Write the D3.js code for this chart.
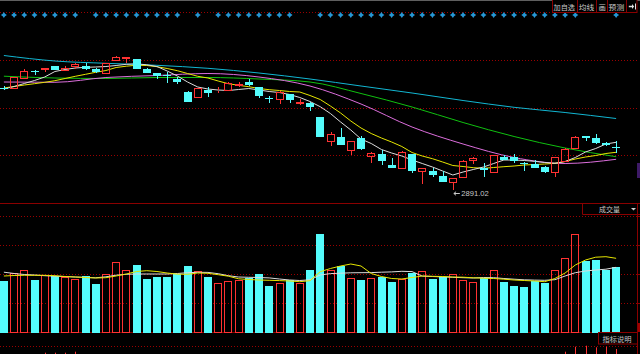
<!DOCTYPE html>
<html>
<head>
<meta charset="utf-8">
<script src="https://cdn.jsdelivr.net/npm/d3@7"></script>
<style>
html, body { margin: 0; padding: 0; background: #000; overflow: hidden; }
svg { display: block; }
</style>
</head>
<body>
<svg id="chart" width="640" height="354"></svg>
<script>
// daily candles
const opens = [3095.8, 3095, 3115.6, 3128.4, 3133.8, 3139, 3131, 3139, 3140, 3134,
    3124.4, 3151, 3154.6, 3152.4, 3133, 3124, 3122, 3113, 3087.6, 3077.6,
    3090, 3090.4, 3090.4, 3101, 3107.6, 3097, 3075.4, 3073, 3082.4, 3066,
    3065, 3037.6, 2989, 2997.6, 2971, 2994.4, 2959, 2963, 2941, 2935.6,
    2963, 2929, 2929.6, 2919, 2906.4, 2917.6, 2951, 2935.6, 2926.4, 2957.6,
    2956.4, 2945.6, 2942.4, 2937.6, 2926.4, 2949, 2974.4, 2999, 2995.6, 2984.4,
    2977];
const highs = [3100, 3118, 3133, 3131, 3135.6, 3140, 3139, 3146, 3146, 3135,
    3146, 3159, 3157, 3153, 3135, 3125, 3127, 3117, 3089.6, 3095,
    3097, 3096.4, 3107.6, 3108, 3113.6, 3098, 3080, 3088, 3083, 3074,
    3067.6, 3038, 3006.4, 3014.4, 2989, 2999, 2967, 2971, 2954.4, 2969,
    2964, 2935, 2934.4, 2929, 2915, 2951, 2956.4, 2944.4, 2962, 2961,
    2962.4, 2946.4, 2951, 2938.4, 2957, 2975, 2999.6, 2999.6, 3002.4, 2987.6,
    2989];
const lows = [3090, 3094, 3115, 3121, 3126.4, 3130, 3130.4, 3133, 3132, 3125.4,
    3124, 3150.4, 3144.4, 3132.4, 3125, 3114, 3106, 3103, 3067, 3074.4,
    3077, 3085.6, 3090, 3097, 3100, 3074.4, 3064.4, 3063, 3066, 3061,
    3049.6, 2997, 2979.6, 2980.4, 2961, 2971.8, 2944.4, 2941, 2935, 2935,
    2925, 2902.4, 2917.6, 2907, 2891.02, 2917, 2943, 2917.6, 2926, 2950.4,
    2944.4, 2929, 2935, 2924.4, 2917.6, 2948.4, 2974, 2989.6, 2983.8, 2980,
    2964.4];
const closes = [3094.4, 3117, 3129, 3127.4, 3134.6, 3131, 3135, 3144, 3133, 3126.4,
    3144.4, 3157, 3156.4, 3133, 3125.6, 3119.6, 3121.2, 3107.6, 3067.6, 3094.4,
    3085.6, 3091.6, 3104.4, 3103.6, 3100.4, 3080, 3073, 3087, 3071, 3067.6,
    3057.6, 2997.6, 3002.4, 2981, 2988.4, 2972.4, 2965.6, 2949, 2935.6, 2966.4,
    2929, 2934.4, 2920.4, 2907.6, 2914.4, 2949, 2955.6, 2931, 2961, 2951,
    2949, 2942.4, 2935.6, 2927.6, 2956.4, 2972.4, 2996.4, 2995.6, 2984.4, 2981,
    2976.4];

// price moving averages
const ma5 = [3093, 3098, 3104, 3110, 3117, 3128, 3132, 3135, 3136.4, 3137,
    3138, 3140, 3142.4, 3143.4, 3141.4, 3138, 3129, 3119, 3107, 3097,
    3093, 3091, 3090, 3092, 3094, 3091, 3088, 3086, 3082, 3076,
    3068, 3057.6, 3044, 3027, 3011, 2993, 2984, 2972, 2965, 2959,
    2951, 2944, 2937, 2929, 2921, 2927, 2932, 2937, 2944, 2951,
    2951, 2950, 2948.4, 2946, 2944.4, 2948, 2956, 2967, 2974, 2983,
    2986.4];
const ma10 = [3095, 3098, 3101, 3103.6, 3106.4, 3109.6, 3114, 3118.4, 3122.4, 3126.4,
    3130, 3136, 3138.6, 3140.6, 3140, 3137.6, 3134, 3129.6, 3124, 3118.4,
    3115, 3109, 3103.6, 3100.4, 3097.6, 3094, 3091.6, 3090, 3088, 3087,
    3080, 3072, 3059, 3045, 3029, 3015, 3004, 2995, 2987, 2978,
    2966, 2959, 2953.6, 2947, 2940, 2938, 2935.6, 2934.4, 2936, 2937.6,
    2939, 2941, 2942, 2943, 2944.4, 2948, 2953, 2957, 2960, 2964,
    2966.4];
// slower averages, read every fifth day
const slowIdx = [0, 5, 10, 15, 20, 25, 30, 35, 40, 45, 50, 55, 60];
const ma20 = [3107, 3106.4, 3116, 3120, 3124, 3117, 3099, 3063, 3017, 2983, 2956, 2944, 2952.4];
const ma30 = [3118.6, 3115, 3114, 3116, 3116, 3113, 3107, 3084, 3057, 3026, 2998, 2975, 2957.6];
const ma60 = [3160, 3149, 3144.4, 3140.4, 3134.4, 3125, 3113, 3099, 3085, 3070, 3056.4, 3046, 3034];

// volume and its averages
const volumes = [2040, 2360, 2480, 2080, 2268, 2228, 2212, 2120, 2228, 1932,
    2320, 2800, 2480, 2680, 2120, 2212, 2212, 2320, 2640, 2428,
    2212, 1960, 2040, 2080, 2172, 2308, 1840, 1948, 2068, 1972,
    2480, 3920, 2480, 2652, 2160, 2092, 2160, 2212, 2012, 2120,
    2348, 2440, 2120, 2212, 2320, 2080, 2000, 2148, 2480, 2012,
    1852, 1800, 2040, 1960, 2480, 2948, 3920, 2852, 2892, 2492,
    2600];
const volMa5 = [2240, 2260, 2268, 2268, 2268, 2252, 2220, 2200, 2180, 2160,
    2172, 2240, 2320, 2420, 2452, 2420, 2360, 2312, 2308, 2360,
    2348, 2292, 2232, 2128, 2100, 2080, 2068, 2056, 2040, 2012,
    2052, 2412, 2540, 2640, 2720, 2640, 2340, 2220, 2140, 2120,
    2180, 2240, 2228, 2220, 2200, 2192, 2168, 2152, 2140, 2112,
    2080, 2060, 2040, 2012, 2140, 2360, 2680, 2880, 2992, 3012,
    2948];
const volMa10 = [2392, 2340, 2300, 2280, 2252, 2232, 2216, 2200, 2184, 2168,
    2208, 2272, 2308, 2320, 2320, 2320, 2320, 2340, 2372, 2388,
    2384, 2332, 2252, 2200, 2188, 2180, 2164, 2120, 2080, 2060,
    2088, 2280, 2336, 2352, 2368, 2372, 2376, 2392, 2404, 2428,
    2416, 2236, 2220, 2204, 2188, 2172, 2160, 2180, 2172, 2140,
    2112, 2088, 2076, 2068, 2092, 2240, 2372, 2440, 2480, 2512,
    2588];

// days that carry an info marker on the top row
const markerIdx = [0, 1, 2, 3, 4, 5, 6, 7, 9, 10, 11, 12, 13, 14, 15, 16, 17, 19,
    21, 22, 23, 24, 25, 26, 27, 28, 31, 32, 33, 34, 35, 36, 37, 38, 39, 40, 41,
    42, 43, 44, 45, 46, 47, 48, 49, 50, 51, 52, 53, 54, 55, 56, 60];

// tops of the indicator bars peeking in at the bottom
const macdIdx = [4, 5, 6, 7, 55, 56, 57, 58, 59, 60];
const macdVal = [9.3, 9.3, 9.3, 10.3, 10.3, 15.3, 16.3, 14.7, 15.3, 13];

const buttons = ["加自选", "均线", "画", "预测"];

const UP = '#ff3232', DOWN = '#54fcfc', DARK = '#8a0000', LABEL = '#c8c8c8';
const CJK = '"Noto Sans CJK SC", "Noto Sans", sans-serif';

const svg = d3.select('#chart');

const x = d3.scaleBand()
    .domain(d3.range(opens.length))
    .range([0, 620])
    .paddingInner(0.24)
    .paddingOuter(0);
const cx = i => x(i) + x.bandwidth() / 2;
const left = i => Math.round(x(i));

const y = d3.scaleLinear().domain([2865, 3271]).range([203, 0]);
const yVol = d3.scaleLinear().domain([0, 5160]).range([332, 203]);
const yMacd = d3.scaleLinear().domain([0, 20]).range([362, 342]);

function drawFrame() {
    svg.append('rect').attr('width', 640).attr('height', 354).attr('fill', '#000');
    svg.append('rect').attr('width', 640).attr('height', 1).attr('fill', '#5f5f5f');

    let grid = svg.append('g')
        .attr('stroke', '#9a0000')
        .attr('stroke-dasharray', '1 2');
    // price panel 12..203, volume panel 216..332
    let rows = d3.range(4).map(k => 12 + k * (203 - 12) / 4)
        .concat(d3.range(4).map(k => 216 + k * (332 - 216) / 4), [346]);
    rows.forEach(r => {
        grid.append('line')
            .attr('x1', 0).attr('x2', 637)
            .attr('y1', Math.round(r) + 0.5).attr('y2', Math.round(r) + 0.5);
    });

    svg.append('line').attr('x1', 0).attr('x2', 640).attr('y1', 203.5).attr('y2', 203.5)
        .attr('stroke', DARK);
    svg.append('line').attr('x1', 0).attr('x2', 637).attr('y1', 332.5).attr('y2', 332.5)
        .attr('stroke', DARK);

    // right edge axis of the lower panels
    svg.append('line').attr('x1', 637.5).attr('x2', 637.5).attr('y1', 203).attr('y2', 354)
        .attr('stroke', DARK);
    [216, 245, 274, 303].forEach(t => {
        svg.append('line').attr('x1', 637.5).attr('x2', 640)
            .attr('y1', t + 0.5).attr('y2', t + 0.5).attr('stroke', DARK);
    });
    svg.append('rect').attr('x', 638).attr('y', 323).attr('width', 2).attr('height', 9)
        .attr('fill', '#a00000');
    svg.append('rect').attr('x', 637).attr('y', 163).attr('width', 3).attr('height', 15)
        .attr('fill', '#3d1a66');
}

function drawMarkers() {
    let star = 'M0,-3 L1.2,-1.2 L3,0 L1.2,1.2 L0,3 L-1.2,1.2 L-3,0 L-1.2,-1.2 Z';
    svg.append('g').selectAll('path')
        .data(markerIdx)
        .join('path')
        .attr('d', star)
        .attr('transform', i => `translate(${cx(i)},15)`)
        .attr('fill', '#2596d4');
}

function drawCandles() {
    let g = svg.append('g');
    opens.forEach((o, i) => {
        let c = closes[i];
        let up = c >= o;
        let col = up ? UP : DOWN;
        let top = Math.round(y(Math.max(o, c)));
        let bot = Math.round(y(Math.min(o, c)));
        let wx = left(i) + 4.5;
        if (up) {
            g.append('line').attr('x1', wx).attr('x2', wx)
                .attr('y1', Math.round(y(highs[i]))).attr('y2', top)
                .attr('stroke', col);
            g.append('line').attr('x1', wx).attr('x2', wx)
                .attr('y1', bot + 1).attr('y2', Math.round(y(lows[i])))
                .attr('stroke', col);
            g.append('rect')
                .attr('x', left(i) + 0.5).attr('y', top + 0.5)
                .attr('width', 7).attr('height', Math.max(0, bot - top))
                .attr('fill', 'none').attr('stroke', col);
        } else {
            g.append('line').attr('x1', wx).attr('x2', wx)
                .attr('y1', Math.round(y(highs[i]))).attr('y2', Math.round(y(lows[i])))
                .attr('stroke', col);
            g.append('rect')
                .attr('x', left(i)).attr('y', top)
                .attr('width', 8).attr('height', Math.max(1, bot - top))
                .attr('fill', col);
        }
    });
}

function drawPriceLines() {
    let daily = d3.line().x((d, i) => cx(i)).y(d => y(d));
    let slow = d3.line().x((d, k) => cx(slowIdx[k])).y(d => y(d)).curve(d3.curveMonotoneX);
    let g = svg.append('g').attr('fill', 'none').attr('stroke-width', 1);
    g.append('path').attr('d', slow(ma60)).attr('stroke', '#12b6d2');
    g.append('path').attr('d', slow(ma30)).attr('stroke', '#10c010');
    g.append('path').attr('d', slow(ma20)).attr('stroke', '#dc6edc');
    g.append('path').attr('d', daily(ma10)).attr('stroke', '#e6e600');
    g.append('path').attr('d', daily(ma5)).attr('stroke', '#dcdcdc');
}

function drawLowLabel() {
    let li = d3.minIndex(lows);
    let lx = cx(li);
    let ly = Math.round(y(lows[li])) + 3.5;
    svg.append('path')
        .attr('d', `M${lx + 1},${ly} H${lx + 7} M${lx + 1},${ly} l2.2,-1.8 M${lx + 1},${ly} l2.2,1.8`)
        .attr('stroke', LABEL).attr('fill', 'none');
    svg.append('text')
        .attr('x', lx + 8.5).attr('y', ly + 2.8)
        .attr('font-family', '"Liberation Sans", Arial, sans-serif')
        .attr('font-size', 7.6)
        .attr('fill', LABEL)
        .text(lows[li].toFixed(2));
}

function drawVolume() {
    let g = svg.append('g');
    volumes.forEach((v, i) => {
        let up = closes[i] >= opens[i];
        let top = Math.round(yVol(v));
        if (up) {
            g.append('rect')
                .attr('x', left(i) + 0.5).attr('y', top + 0.5)
                .attr('width', 7).attr('height', 332 - top)
                .attr('fill', 'none').attr('stroke', UP);
        } else {
            g.append('rect')
                .attr('x', left(i)).attr('y', top)
                .attr('width', 8).attr('height', 333 - top)
                .attr('fill', DOWN);
        }
    });
    let line = d3.line().x((d, i) => cx(i)).y(d => yVol(d));
    svg.append('path').attr('d', line(volMa10))
        .attr('fill', 'none').attr('stroke', '#dcdcdc').attr('stroke-width', 1);
    svg.append('path').attr('d', line(volMa5))
        .attr('fill', 'none').attr('stroke', '#e6e600').attr('stroke-width', 1);

    svg.append('g').selectAll('line')
        .data(macdIdx)
        .join('line')
        .attr('x1', i => left(i) + 4.5).attr('x2', i => left(i) + 4.5)
        .attr('y1', (d, k) => yMacd(macdVal[k])).attr('y2', 354)
        .attr('stroke', UP);
}

function drawToolbar() {
    let g = svg.append('g');
    g.append('rect').attr('x', 552.5).attr('y', -0.5).attr('width', 84.5).attr('height', 13)
        .attr('fill', '#000').attr('stroke', DARK);
    [577, 596, 607, 626].forEach(s => {
        g.append('line').attr('x1', s + 0.5).attr('x2', s + 0.5).attr('y1', 0).attr('y2', 12)
            .attr('stroke', DARK);
    });
    let spots = [[553.5, 21.5], [578.8, 15.5], [598.4, 7.4], [608.6, 15.6]];
    buttons.forEach((b, k) => {
        g.append('text')
            .attr('x', spots[k][0]).attr('y', 10)
            .attr('textLength', spots[k][1]).attr('lengthAdjust', 'spacingAndGlyphs')
            .attr('font-family', CJK).attr('font-size', 7.4)
            .attr('fill', LABEL).text(b);
    });
    g.append('path')
        .attr('d', 'M628.8,5.8 H632 V4 L634.2,6.5 L632,9 V7.2 H628.8 Z M635,3.5 H636 V9.5 H635 Z')
        .attr('fill', '#dedede');

    // volume panel tag
    svg.append('path').attr('d', 'M582.5,203.5 V214.5 H640').attr('fill', 'none').attr('stroke', DARK);
    svg.append('text').attr('x', 599).attr('y', 212.2)
        .attr('textLength', 21).attr('lengthAdjust', 'spacingAndGlyphs')
        .attr('font-family', CJK).attr('font-size', 7.2)
        .attr('fill', LABEL).text('成交量');
    svg.append('path').attr('d', 'M631,208 h5 l-2.5,2.6 Z').attr('fill', '#cfcfcf');

    svg.append('rect').attr('x', 598.5).attr('y', 332.5).attr('width', 39).attr('height', 11.5)
        .attr('fill', '#000').attr('stroke', DARK);
    svg.append('text').attr('x', 602.6).attr('y', 341.6)
        .attr('textLength', 29).attr('lengthAdjust', 'spacingAndGlyphs')
        .attr('font-family', CJK).attr('font-size', 7.3)
        .attr('fill', LABEL).text('指标说明');
}

drawFrame();
drawMarkers();
drawPriceLines();
drawCandles();
drawLowLabel();
drawVolume();
drawToolbar();
</script>
</body>
</html>
